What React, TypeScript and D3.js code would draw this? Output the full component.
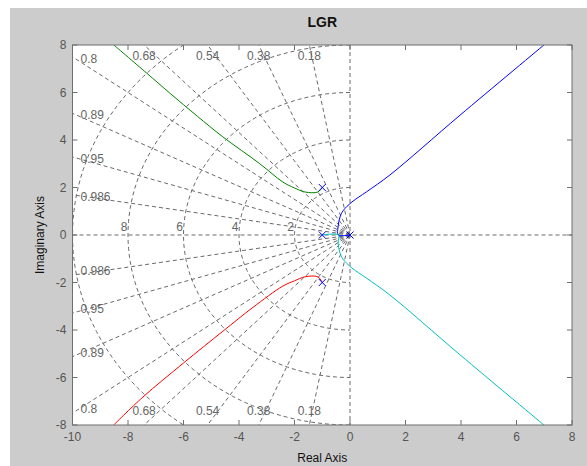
import React, { useEffect, useRef } from "react"
import * as d3 from "d3"

// axis ticks
const xTicks = [-10, -8, -6, -4, -2, 0, 2, 4, 6, 8]
const yTicks = [-8, -6, -4, -2, 0, 2, 4, 6, 8]

// sgrid values
const zetaValues = [0.18, 0.38, 0.54, 0.68, 0.8, 0.89, 0.95, 0.986]
const wnValues = [2, 4, 6, 8, 10]
const wnLabels = [2, 4, 6, 8]

// root locus branches, [real, imag]
const greenBranch: [number, number][] = [
    [-1.0, 2.0], [-1.16, 1.81], [-1.62, 1.81], [-2.0, 1.98], [-2.42, 2.23], [-3.25, 3.0],
    [-4.58, 4.13], [-5.5, 5.0], [-6.5, 5.98], [-7.33, 6.82], [-8.56, 8.05],
]
const redBranch: [number, number][] = [
    [-1.0, -2.0], [-1.16, -1.76], [-1.62, -1.76], [-2.0, -1.93], [-2.42, -2.15], [-3.5, -3.05],
    [-4.58, -4.05], [-6.0, -5.39], [-7.46, -6.82], [-8.56, -8.05],
]
const blueBranch: [number, number][] = [
    [0, 0], [-0.42, 0], [-0.43, 0.34], [-0.36, 0.76], [-0.25, 1.02], [0.07, 1.39],
    [0.6, 1.82], [1.44, 2.53], [3.97, 5.05], [7.04, 8.05],
]
const cyanBranch: [number, number][] = [
    [-1.0, 0], [-0.42, 0], [-0.43, -0.34], [-0.36, -0.76], [-0.25, -1.02], [0.07, -1.39],
    [0.6, -1.82], [1.44, -2.53], [3.97, -5.05], [7.04, -8.05],
]
const poles: [number, number][] = [[-1, 2], [-1, -2], [-1, 0], [0, 0]]

const branches = [
    { data: greenBranch, color: "#008000" },
    { data: redBranch, color: "#ff0000" },
    { data: blueBranch, color: "#0000ff" },
    { data: cyanBranch, color: "#00bfbf" },
]

const W = 587
const H = 466
const margin = { left: 72.5, right: 15, top: 45, bottom: 41 }
const gridColor = "#6a6a6a"
const labelFont = "'Liberation Sans', Arial, sans-serif"

export default function App() {
    const ref = useRef<SVGSVGElement>(null)

    useEffect(() => {
        if (!ref.current) return
        const svg = d3.select(ref.current)
        svg.selectAll("*").remove()

        const x = d3.scaleLinear().domain([-10, 8]).range([margin.left, W - margin.right])
        const y = d3.scaleLinear().domain([-8, 8]).range([H - margin.bottom, margin.top])
        const [x0, x1] = x.range()
        const [y1, y0] = y.range()

        svg.append("rect").attr("width", W).attr("height", H).attr("fill", "#ffffff")
        svg.append("rect").attr("x", 10).attr("y", 8).attr("width", W - 10).attr("height", H - 8).attr("fill", "#cccccc")
        svg.append("rect").attr("x", x0).attr("y", y0).attr("width", x1 - x0).attr("height", y1 - y0).attr("fill", "#ffffff")

        svg.append("clipPath").attr("id", "plotClip")
            .append("rect").attr("x", x0).attr("y", y0).attr("width", x1 - x0).attr("height", y1 - y0)

        const grid = svg.append("g").attr("clip-path", "url(#plotClip)")
            .attr("fill", "none").attr("stroke", gridColor).attr("stroke-width", 1).attr("stroke-dasharray", "4,3")

        // axes lines through origin
        grid.append("line").attr("x1", x0).attr("x2", x1).attr("y1", y(0)).attr("y2", y(0))
        grid.append("line").attr("x1", x(0)).attr("x2", x(0)).attr("y1", y0).attr("y2", y1)

        // damping ratio rays
        zetaValues.forEach((z) => {
            const th = Math.acos(z)
            ;[1, -1].forEach((s) => {
                grid.append("line")
                    .attr("x1", x(0)).attr("y1", y(0))
                    .attr("x2", x(-20 * Math.cos(th))).attr("y2", y(s * 20 * Math.sin(th)))
            })
        })

        // natural frequency arcs
        const arc = d3.line<number>()
        wnValues.forEach((wn) => {
            const angles = d3.range(90, 270.5, 2).map((a) => (a * Math.PI) / 180)
            grid.append("path").attr("d", arc.x((a) => x(wn * Math.cos(a))).y((a) => y(wn * Math.sin(a)))(angles))
        })

        // grid labels
        const labels = svg.append("g").attr("font-family", labelFont).attr("font-size", 12).attr("fill", "#666")
        zetaValues.forEach((z) => {
            const th = Math.acos(z)
            const topX = -8 / Math.tan(th)
            if (topX >= -10) {
                labels.append("text").attr("x", x(topX)).attr("y", y0 + 15).attr("text-anchor", "middle").text(z)
                labels.append("text").attr("x", x(topX)).attr("y", y1 - 10).attr("text-anchor", "middle").text(z)
            } else {
                const ly = 10 * Math.tan(th)
                labels.append("text").attr("x", x0 + 8).attr("y", y(ly) + 6).text(z)
                labels.append("text").attr("x", x0 + 8).attr("y", y(-ly)).text(z)
            }
        })
        wnLabels.forEach((wn) => {
            labels.append("text").attr("x", x(-wn) - 4).attr("y", y(0) - 4).attr("text-anchor", "middle").text(wn)
        })

        // locus branches
        const line = d3.line<[number, number]>().x((d) => x(d[0])).y((d) => y(d[1])).curve(d3.curveCatmullRom.alpha(0.5))
        const curves = svg.append("g").attr("clip-path", "url(#plotClip)").attr("fill", "none")
        branches.forEach((b) => {
            curves.append("path").attr("d", line(b.data)).attr("stroke", b.color).attr("stroke-width", 1)
        })

        // poles
        const marks = svg.append("g").attr("stroke", "#0000ff").attr("stroke-width", 1)
        poles.forEach((p) => {
            const px = x(p[0])
            const py = y(p[1])
            marks.append("path").attr("d", `M${px - 3.5},${py - 3.5}L${px + 3.5},${py + 3.5}M${px - 3.5},${py + 3.5}L${px + 3.5},${py - 3.5}`)
        })

        // frame and ticks
        const axisColor = "#6f6f6f"
        svg.append("rect").attr("x", x0).attr("y", y0).attr("width", x1 - x0).attr("height", y1 - y0)
            .attr("fill", "none").attr("stroke", axisColor)
        const ticks = svg.append("g").attr("stroke", axisColor)
        xTicks.forEach((t) => {
            ticks.append("line").attr("x1", x(t)).attr("x2", x(t)).attr("y1", y1).attr("y2", y1 - 5)
            ticks.append("line").attr("x1", x(t)).attr("x2", x(t)).attr("y1", y0).attr("y2", y0 + 5)
        })
        yTicks.forEach((t) => {
            ticks.append("line").attr("x1", x0).attr("x2", x0 + 5).attr("y1", y(t)).attr("y2", y(t))
            ticks.append("line").attr("x1", x1).attr("x2", x1 - 5).attr("y1", y(t)).attr("y2", y(t))
        })

        const tickText = svg.append("g").attr("font-family", labelFont).attr("font-size", 12).attr("fill", "#555")
        xTicks.forEach((t) => {
            tickText.append("text").attr("x", x(t)).attr("y", y1 + 16).attr("text-anchor", "middle").text(t)
        })
        yTicks.forEach((t) => {
            tickText.append("text").attr("x", x0 - 6).attr("y", y(t) + 4).attr("text-anchor", "end").text(t)
        })

        // titles
        svg.append("text").attr("x", (x0 + x1) / 2).attr("y", 27).attr("text-anchor", "middle")
            .attr("font-family", labelFont).attr("font-size", 14).attr("font-weight", "bold").attr("fill", "#111").text("LGR")
        svg.append("text").attr("x", (x0 + x1) / 2).attr("y", 462).attr("text-anchor", "middle")
            .attr("font-family", labelFont).attr("font-size", 12).attr("fill", "#111").text("Real Axis")
        svg.append("text").attr("transform", `translate(44,${y(0)}) rotate(-90)`).attr("text-anchor", "middle")
            .attr("font-family", labelFont).attr("font-size", 12).attr("fill", "#111").text("Imaginary Axis")
    }, [])

    return <svg ref={ref} width={W} height={H} style={{ position: "absolute", left: 0, top: 0 }} />
}
